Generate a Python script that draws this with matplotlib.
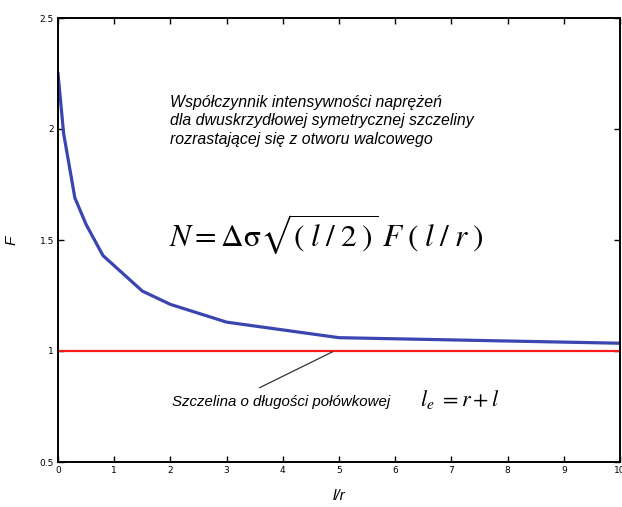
import matplotlib.pyplot as plt

l_r = [0, 0.1, 0.3, 0.5, 0.8, 1.5, 2, 3, 5, 10]
F = [2.25, 1.98, 1.69, 1.57, 1.43, 1.27, 1.21, 1.13, 1.06, 1.035]
x_ticks = [0, 1, 2, 3, 4, 5, 6, 7, 8, 9, 10]
y_ticks = [0.5, 1, 1.5, 2, 2.5]
y_ticklabels = ["0.5", "1", "1.5", "2", "2.5"]

plt.rcParams["mathtext.fontset"] = "stix"
sans = "Liberation Sans"

fig = plt.figure(figsize=(6.22, 5.07), dpi=100)
ax = fig.add_axes([58 / 622, 45 / 507, 562 / 622, 444 / 507])

ax.axhline(1, color="#ff1a1a", linewidth=1.6)
ax.plot(l_r, F, color="#3a45b0", linewidth=2.3)

ax.set_xlim(0, 10)
ax.set_ylim(0.5, 2.5)
ax.set_xticks(x_ticks)
ax.set_yticks(y_ticks)
ax.set_yticklabels(y_ticklabels)
ax.tick_params(direction="in", length=4, width=1, top=True, right=True,
               labelsize=6.5, pad=3)
for s in ax.spines.values():
    s.set_linewidth(1.4)

ax.set_xlabel("l/r", fontsize=11, style="italic", family=sans, labelpad=10)
ax.set_ylabel("F", fontsize=11, style="italic", family=sans, va="center")
ax.yaxis.set_label_coords(-0.082, 0.5)

ax.text(1.99, 2.155,
        "Współczynnik intensywności naprężeń\n"
        "dla dwuskrzydłowej symetrycznej szczeliny\n"
        "rozrastającej się z otworu walcowego",
        fontsize=11.4, style="italic", family=sans, va="top", ha="left",
        linespacing=1.32)

ax.text(1.97, 1.525,
        r"$N = \Delta\mathrm{\sigma}\sqrt{(\;l\;/\;2\;)}\;F\;(\;l\;/\;r\;)$",
        fontsize=22.5, va="center", ha="left")

ax.plot([4.89, 3.59], [0.997, 0.835], color="#333333", linewidth=0.9)
ax.text(2.03, 0.772, "Szczelina o długości połówkowej",
        fontsize=10.8, style="italic", family=sans, va="center", ha="left")
ax.text(6.44, 0.78, r"$l_e\ =r+l$", fontsize=16, va="center", ha="left")

fig.savefig("out.png", dpi=100)
